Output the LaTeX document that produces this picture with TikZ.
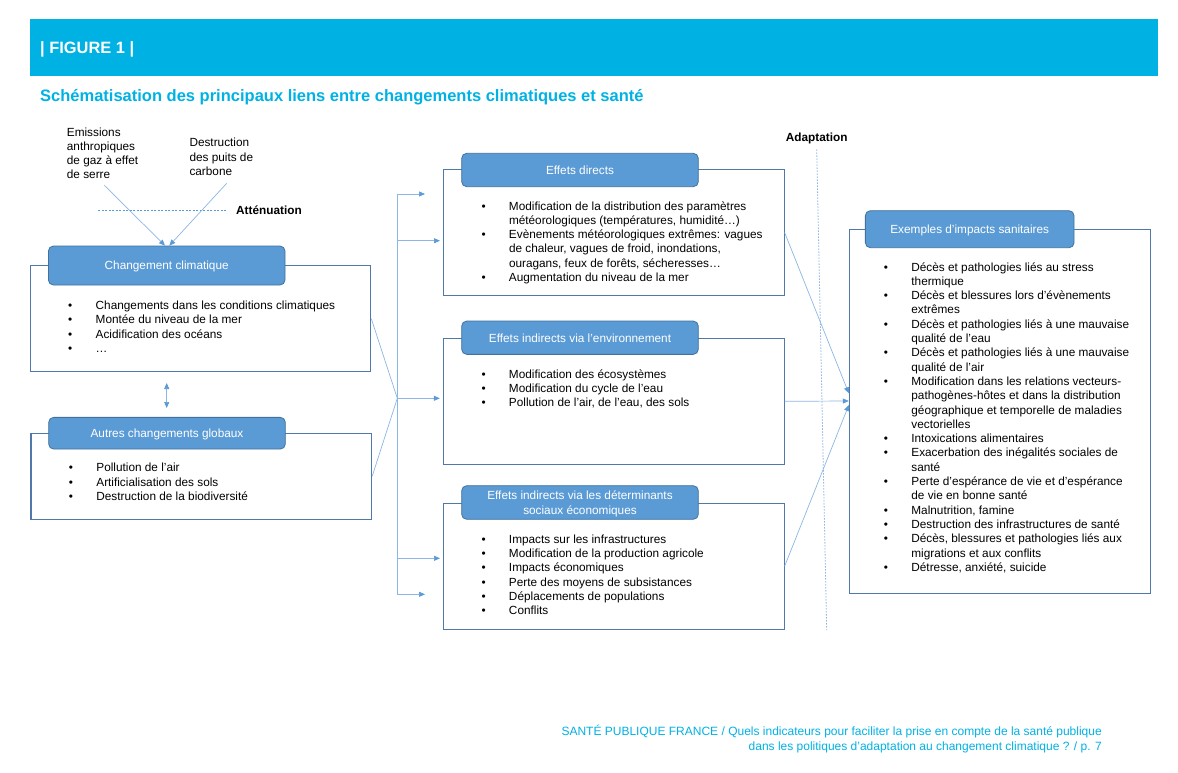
\documentclass[tikz,border=0pt]{standalone}
\usepackage{fontspec}
\setmainfont{Liberation Sans}
\usetikzlibrary{arrows.meta}

\definecolor{bandeau}{HTML}{00B2E4}
\definecolor{hfill}{HTML}{5B9BD5}
\definecolor{hdraw}{HTML}{41719C}
\definecolor{cadrec}{HTML}{5079AA}
\definecolor{lienc}{HTML}{8DB7E3}

\newenvironment{puces}{\begin{tabular}[t]{@{}p{27.5pt}@{}l@{}}}{\end{tabular}}
\newcommand{\li}[1]{\textbullet & #1\\}
\newcommand{\lc}[1]{& #1\\}
\newcommand{\pile}[2][l]{\begin{tabular}[t]{@{}#1@{}}#2\end{tabular}}

\begin{document}
\begin{tikzpicture}[x=1pt,y=-1pt,
    every node/.style={font=\fontsize{11.8}{14.3}\selectfont, inner sep=0pt},
    cadre/.style={draw=cadrec, line width=1.1pt, fill=white, minimum width=340.7pt},
    entete/.style={draw=hdraw, fill=hfill, rounded corners=5pt, text=white, line width=0.8pt,
                   minimum width=236.6pt, align=center, text depth=0pt, text height=8.6pt},
    liste/.style={anchor=base west},
    gras/.style={anchor=base west, font=\fontsize{11.8}{14.3}\selectfont\bfseries},
    lien/.style={draw=lienc, line width=0.7pt},
    fl/.style={lien, -{Triangle[length=6pt,width=5pt,color=hfill]}},
    fll/.style={lien, {Triangle[length=6pt,width=5pt,color=hfill]}-{Triangle[length=6pt,width=5pt,color=hfill]}}]
    \useasboundingbox (0,0) rectangle (1178,772);
    \fill[white] (0,0) rectangle (1178,772);

    \node[fill=bandeau, minimum width=1128pt, minimum height=57pt] (bande) at (594,47.5) {};
    \node[anchor=base west, text=white, font=\fontsize{16.4}{19}\selectfont\bfseries] (fig) at (40,53.3) {| FIGURE 1 |};
    \node[anchor=base west, text=bandeau, font=\fontsize{16.5}{19}\selectfont\bfseries] (titre) at (40,101.7)
        {Schématisation des principaux liens entre changements climatiques et santé};

    \node[anchor=base west] (emis) at (66.7,136)  {\pile{Emissions\\anthropiques\\de gaz à effet\\de serre}};
    \node[anchor=base west] (puits) at (189.3,146.7) {\pile{Destruction\\des puits de\\carbone}};
    \node[gras] (att) at (236,214.3) {Atténuation};
    \node[gras] (adapt) at (785.7,141.3) {Adaptation};

    \node[cadre, minimum height=106pt]   (ccC) at (200.4,318.7) {};
    \node[entete, minimum height=39pt]   (ccE) at (166.7,265.5) {Changement climatique};
    \node[liste] (ccL) at (68,309.6) {\begin{puces}
        \li{Changements dans les conditions climatiques}
        \li{Montée du niveau de la mer}
        \li{Acidification des océans}
        \li{…}
    \end{puces}};

    \node[cadre, minimum height=85.7pt]  (agC) at (201.3,476.2) {};
    \node[entete, minimum height=31.7pt] (agE) at (167,433.2) {Autres changements globaux};
    \node[liste] (agL) at (68.7,471.7) {\begin{puces}
        \li{Pollution de l’air}
        \li{Artificialisation des sols}
        \li{Destruction de la biodiversité}
    \end{puces}};

    \node[cadre, minimum height=126.4pt] (edC) at (613.7,232.5) {};
    \node[entete, minimum height=33.4pt] (edE) at (580,170) {Effets directs};
    \node[liste] (edL) at (481.3,210) {\begin{puces}
        \li{Modification de la distribution des paramètres}
        \lc{météorologiques (températures, humidité…)}
        \li{Evènements météorologiques extrêmes: vagues}
        \lc{de chaleur, vagues de froid, inondations,}
        \lc{ouragans, feux de forêts, sécheresses…}
        \li{Augmentation du niveau de la mer}
    \end{puces}};

    \node[cadre, minimum height=126pt]   (envC) at (613.7,401.3) {};
    \node[entete, minimum height=33.3pt] (envE) at (580,337.7) {Effets indirects via l'environnement};
    \node[liste] (envL) at (481.3,378) {\begin{puces}
        \li{Modification des écosystèmes}
        \li{Modification du cycle de l’eau}
        \li{Pollution de l’air, de l’eau, des sols}
    \end{puces}};

    \node[cadre, minimum height=126pt]   (seC) at (613.7,566.3) {};
    \node[entete, minimum height=33.6pt, text height=23pt] (seE) at (580,502.5) {Effets indirects via les déterminants\\sociaux économiques};
    \node[liste] (seL) at (481.3,543.3) {\begin{puces}
        \li{Impacts sur les infrastructures}
        \li{Modification de la production agricole}
        \li{Impacts économiques}
        \li{Perte des moyens de subsistances}
        \li{Déplacements de populations}
        \li{Conflits}
    \end{puces}};

    \node[cadre, minimum width=300.7pt, minimum height=364pt] (isC) at (999.7,411.3) {};
    \node[entete, minimum width=208.7pt, minimum height=37pt] (isE) at (969.7,229.2) {Exemples d’impacts sanitaires};
    \node[liste] (isL) at (883.7,271) {\begin{puces}
        \li{Décès et pathologies liés au stress}
        \lc{thermique}
        \li{Décès et blessures lors d’évènements}
        \lc{extrêmes}
        \li{Décès et pathologies liés à une mauvaise}
        \lc{qualité de l’eau}
        \li{Décès et pathologies liés à une mauvaise}
        \lc{qualité de l’air}
        \li{Modification dans les relations vecteurs-}
        \lc{pathogènes-hôtes et dans la distribution}
        \lc{géographique et temporelle de maladies}
        \lc{vectorielles}
        \li{Intoxications alimentaires}
        \li{Exacerbation des inégalités sociales de}
        \lc{santé}
        \li{Perte d’espérance de vie et d’espérance}
        \lc{de vie en bonne santé}
        \li{Malnutrition, famine}
        \li{Destruction des infrastructures de santé}
        \li{Décès, blessures et pathologies liés aux}
        \lc{migrations et aux conflits}
        \li{Détresse, anxiété, suicide}
    \end{puces}};

    \node[anchor=base east, text=bandeau, font=\fontsize{12}{14.5}\selectfont] (pied) at (1102,735.5)
        {\pile[r]{SANTÉ PUBLIQUE FRANCE / Quels indicateurs pour faciliter la prise en compte de la santé publique\\
        dans les politiques d’adaptation au changement climatique ? / p. 7}};

    \coordinate (e1)  at (104,185);
    \coordinate (e2)  at (226.7,183.3);
    \coordinate (at1) at (98.3,210.7);
    \coordinate (at2) at (227.3,210.7);
    \coordinate (ad1) at (816.7,149.3);
    \coordinate (ad2) at (826.7,630);
    \coordinate (d1)  at (166.7,383);
    \coordinate (d2)  at (166.7,408);
    \coordinate (j)   at (397.3,398.3);
    \coordinate (jh)  at (397.3,194);
    \coordinate (jb)  at (397.3,594.3);
    \coordinate (b1)  at (425,194);
    \coordinate (b2a) at (397.3,240.7);
    \coordinate (b2)  at (440,240.7);
    \coordinate (b4a) at (397.3,558.3);
    \coordinate (b4)  at (440,558.3);
    \coordinate (b5)  at (425,594.3);

    \draw[draw=hfill, line width=0.6pt, dash pattern=on 2pt off 1.5pt] (at1) -- (at2);
    \draw[draw=lienc, line width=0.8pt, dash pattern=on 1.5pt off 1.5pt] (ad1) -- (ad2);

    \path       (e1)      edge[fl] ([xshift=-1.7pt]ccE.north)
                (e2)      edge[fl] ([xshift=2.6pt]ccE.north)
                (d1)      edge[fll] (d2)
                ;
    \path[lien] (ccC.east) edge (j)
                (agC.east) edge (j)
                (jh)       edge (jb)
                ;
    \path       (jh)      edge[fl] (b1)
                (b2a)     edge[fl] (b2)
                (j)       edge[fl, shorten >=3pt] (j -| envC.west)
                (b4a)     edge[fl] (b4)
                (jb)      edge[fl] (b5)
                ;
    \path       (edC.east)  edge[fl] ([yshift=18pt]isC.west)
                (envC.east) edge[fl] ([yshift=10.3pt]isC.west)
                (seC.east)  edge[fl] ([yshift=6.3pt]isC.west)
                ;
\end{tikzpicture}
\end{document}
